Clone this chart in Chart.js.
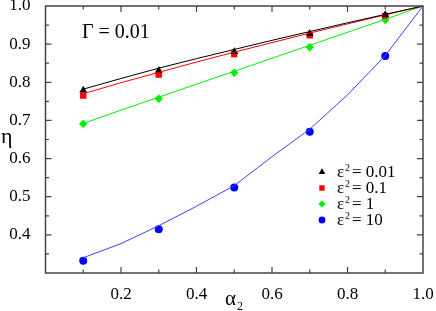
<!DOCTYPE html>
<html>
<head>
<meta charset="utf-8">
<script src="https://cdn.jsdelivr.net/npm/chart.js@4/dist/chart.umd.min.js"></script>
<style>
  html, body { margin: 0; padding: 0; background: #fff; }
  #wrap { width: 436px; height: 311px; }
</style>
</head>
<body>
<div id="wrap"><canvas id="chart" width="436" height="311"></canvas></div>
<script>
// measured points
const xPoints = [0.1, 0.3, 0.5, 0.7, 0.9]
const eps001 = [0.779, 0.831, 0.880, 0.928, 0.977]
const eps01 = [0.765, 0.820, 0.874, 0.923, 0.974]
const eps1 = [0.691, 0.757, 0.825, 0.892, 0.963]
const eps10 = [0.332, 0.415, 0.524, 0.670, 0.869]

// theory curves
const xCurve = [0.1, 0.2, 0.3, 0.4, 0.5, 0.6, 0.7, 0.8, 0.9, 1.0]
const curve001 = [0.782, 0.810, 0.837, 0.862, 0.886, 0.910, 0.933, 0.956, 0.978, 1.0]
const curve01 = [0.770, 0.799, 0.826, 0.853, 0.879, 0.904, 0.929, 0.953, 0.977, 1.0]
const curve1 = [0.692, 0.727, 0.761, 0.795, 0.829, 0.863, 0.897, 0.931, 0.965, 1.0]
const curve10 = [0.340, 0.377, 0.424, 0.475, 0.529, 0.605, 0.677, 0.767, 0.870, 1.0]

const legendLabels = ["0.01", "0.1", "1", "10"]
const xLabels = [0.2, 0.4, 0.6, 0.8, 1.0]
const yLabels = [0.4, 0.5, 0.6, 0.7, 0.8, 0.9, 1.0]

const serif = "'Liberation Serif', 'DejaVu Serif', serif"

const toXY = (xs, ys) => xs.map((x, i) => ({ x, y: ys[i] }))

const curveSet = (data, color) => ({
    type: 'line',
    data: toXY(xCurve, data),
    borderColor: color,
    borderWidth: 1,
    pointRadius: 0,
    fill: false,
    tension: 0
})

const pointSet = (label, data, color, style, radius) => ({
    type: 'scatter',
    label,
    data: toXY(xPoints, data),
    backgroundColor: color,
    borderColor: color,
    borderWidth: 0,
    pointStyle: style,
    pointRadius: radius
})

const near = (v, list) => list.some(l => Math.abs(l - v) < 1e-6)

// frame, inner ticks on four sides, texts and legend
const decorations = {
    id: 'decorations',
    afterDatasetsDraw(chart) {
        const { ctx, chartArea: a, scales: { x, y } } = chart
        ctx.save()
        ctx.strokeStyle = '#444'
        ctx.lineWidth = 1.5
        ctx.strokeRect(a.left, a.top, a.right - a.left, a.bottom - a.top)

        ctx.lineWidth = 1.2
        ctx.beginPath()
        for (let i = 1; i < 10; i++) {
            const px = x.getPixelForValue(i / 10)
            const len = i % 2 === 0 ? 6 : 3.5
            ctx.moveTo(px, a.bottom); ctx.lineTo(px, a.bottom - len)
            ctx.moveTo(px, a.top); ctx.lineTo(px, a.top + len)
        }
        for (let i = 7; i < 20; i++) {
            const py = y.getPixelForValue(i / 20)
            const len = i % 2 === 0 ? 6 : 3.5
            ctx.moveTo(a.left, py); ctx.lineTo(a.left + len, py)
            ctx.moveTo(a.right, py); ctx.lineTo(a.right - len, py)
        }
        ctx.stroke()

        ctx.fillStyle = '#000'
        ctx.textBaseline = 'alphabetic'
        ctx.textAlign = 'left'
        ctx.font = `20px ${serif}`
        ctx.fillText('Γ = 0.01', 82, 38)

        // axis titles
        ctx.font = `22px ${serif}`
        ctx.fillText('η', 1, 143)
        ctx.font = `21px ${serif}`
        ctx.fillText('α', 225, 305)
        ctx.font = `12px ${serif}`
        ctx.fillText('2', 237, 310)

        // legend
        const rows = [172, 188, 204, 220]
        chart.data.datasets.filter(d => d.label).forEach((d, i) => {
            const cy = rows[i]
            ctx.fillStyle = d.backgroundColor
            ctx.strokeStyle = d.backgroundColor
            Chart.helpers.drawPoint(ctx, { pointStyle: d.pointStyle, radius: d.pointRadius * 0.85, rotation: 0, borderWidth: 0 }, 322, cy)
            ctx.fillStyle = '#000'
            ctx.font = `17px ${serif}`
            ctx.fillText('ε', 337, cy + 5)
            ctx.font = `10px ${serif}`
            ctx.fillText('2', 345, cy - 1)
            ctx.font = `17px ${serif}`
            ctx.fillText('= ' + d.label, 352, cy + 5)
        })
        ctx.restore()
    }
}

new Chart(document.getElementById('chart'), {
    data: {
        datasets: [
            curveSet(curve001, '#000000'),
            curveSet(curve01, '#ff0000'),
            curveSet(curve1, '#00ee00'),
            curveSet(curve10, '#4040ff'),
            pointSet(legendLabels[0], eps001, '#000000', 'triangle', 4.5),
            pointSet(legendLabels[1], eps01, '#ff0000', 'rect', 4.5),
            pointSet(legendLabels[2], eps1, '#00ee00', 'rectRot', 4.2),
            pointSet(legendLabels[3], eps10, '#0000ff', 'circle', 4)
        ]
    },
    options: {
        responsive: false,
        animation: false,
        layout: { padding: { top: 6, right: 13, left: 0, bottom: 0 } },
        plugins: {
            legend: { display: false },
            tooltip: { enabled: false }
        },
        scales: {
            x: {
                type: 'linear',
                min: 0,
                max: 1,
                grid: { display: false },
                border: { display: false },
                ticks: {
                    stepSize: 0.1,
                    autoSkip: false,
                    maxRotation: 0,
                    padding: 3,
                    color: '#000',
                    font: { family: serif, size: 17 },
                    callback: v => near(v, xLabels) ? v.toFixed(1) : ''
                },
                afterFit: s => { s.height = 38; s.paddingLeft = 0; s.paddingRight = 0 }
            },
            y: {
                type: 'linear',
                min: 0.3,
                max: 1,
                grid: { display: false },
                border: { display: false },
                ticks: {
                    stepSize: 0.05,
                    autoSkip: false,
                    padding: 7,
                    color: '#000',
                    font: { family: serif, size: 17 },
                    callback: v => near(v, yLabels) ? v.toFixed(1) : ''
                },
                afterFit: s => { s.width = 45.5; s.paddingTop = 0; s.paddingBottom = 0 }
            }
        }
    },
    plugins: [decorations]
})
</script>
</body>
</html>
